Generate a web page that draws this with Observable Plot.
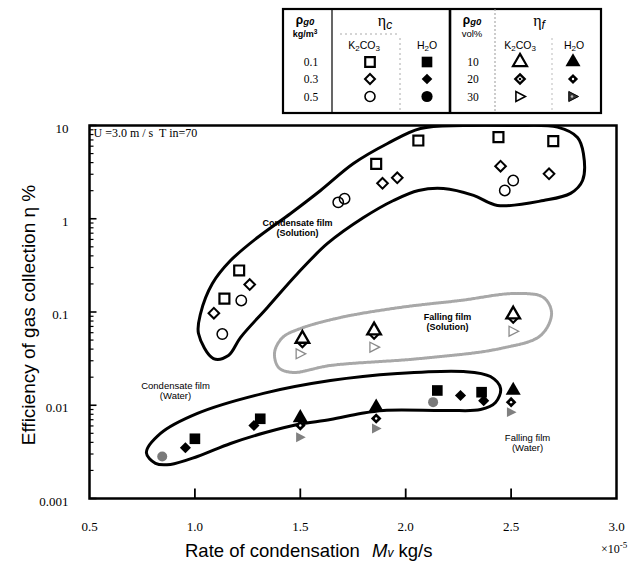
<!DOCTYPE html>
<html><head><meta charset="utf-8">
<script src="https://cdn.jsdelivr.net/npm/d3@7"></script>
<script src="https://cdn.jsdelivr.net/npm/@observablehq/plot@0.6"></script>
<style>
body{margin:0;background:#fff;}
#wrap{position:relative;width:639px;height:566px;background:#fff;overflow:hidden;}
#legend{position:absolute;left:0;top:0;}
#chart{position:absolute;left:0;top:115px;}
</style></head><body>
<div id="wrap"><svg id="legend" width="639" height="118"></svg><div id="chart"></div></div>
<script>
// ---- axis ticks ----
const xTicks = [0.5, 1.0, 1.5, 2.0, 2.5, 3.0];
const xTickLabels = ["0.5", "1.0", "1.5", "2.0", "2.5", "3.0"];
const xInnerTicks = [1.0, 1.5, 2.0, 2.5];
const yTicks = [0.001, 0.01, 0.1, 1, 10];
const yTickLabels = ["0.001", "0.01", "0.1", "1", "10"];

// ---- condensate film, K2CO3 solution (open symbols) ----
const sqOpenX = [1.14, 1.21, 1.86, 2.06, 2.44, 2.70];
const sqOpenY = [0.139, 0.279, 3.88, 6.9, 7.5, 6.8];
const diaOpenX = [1.09, 1.26, 1.89, 1.96, 2.45, 2.68];
const diaOpenY = [0.097, 0.197, 2.40, 2.75, 3.66, 3.03];
const cirOpenX = [1.13, 1.22, 1.68, 1.71, 2.47, 2.51];
const cirOpenY = [0.058, 0.133, 1.50, 1.64, 2.01, 2.57];

// ---- condensate film, water (filled symbols) ----
const sqFillX = [1.00, 1.31, 2.15, 2.36];
const sqFillY = [0.00437, 0.00716, 0.0144, 0.0138];
const diaFillX = [0.955, 1.28, 2.26, 2.37];
const diaFillY = [0.0035, 0.00607, 0.0127, 0.0112];
const cirFillX = [0.845, 2.13];
const cirFillY = [0.00282, 0.0108];

// ---- falling film, K2CO3 solution ----
const triOpenX = [1.51, 1.85, 2.51];
const triOpenY = [0.0516, 0.0634, 0.094];
const diaDotX = [1.51, 1.85, 2.51];
const diaDotY = [0.047, 0.058, 0.086];
const rtriOpenX = [1.50, 1.85, 2.51];
const rtriOpenY = [0.0356, 0.042, 0.0622];

// ---- falling film, water ----
const triFillX = [1.50, 1.86, 2.51];
const triFillY = [0.00733, 0.00953, 0.0144];
const diaDotFillX = [1.50, 1.86, 2.50];
const diaDotFillY = [0.00607, 0.00721, 0.0108];
const rtriFillX = [1.50, 1.86, 2.50];
const rtriFillY = [0.00454, 0.00564, 0.00843];

// ---- hand-drawn enclosing loops ----
const loopSolX = [1.088,1.017,1.027,1.083,1.169,1.297,1.454,1.596,1.752,1.914,2.070,2.274,2.511,2.720,2.815,2.843,2.839,2.782,2.654,2.435,2.322,2.179,2.061,1.942,1.800,1.629,1.487,1.344,1.216,1.159];
const loopSolY = [0.0317,0.0588,0.0964,0.202,0.356,0.63,1.14,2.01,3.91,6.41,9.29,10,10,9.6,7.44,5.0,2.57,1.87,1.57,1.39,1.78,2.11,2.01,1.57,1.03,0.543,0.259,0.112,0.0532,0.0342];
const loopFallX = [1.378,1.416,1.501,1.691,1.975,2.260,2.521,2.654,2.692,2.640,2.450,2.070,1.643,1.463,1.397];
const loopFallY = [0.0368,0.0533,0.0665,0.0873,0.112,0.133,0.158,0.143,0.0964,0.056,0.0406,0.0317,0.0267,0.0225,0.0254];
const loopWatX = [0.770,0.837,1.012,1.325,1.643,1.961,2.274,2.402,2.450,2.426,2.355,2.198,1.895,1.786,1.643,1.487,1.335,1.169,1.012,0.884,0.813];
const loopWatY = [0.0031,0.00498,0.00817,0.0134,0.0184,0.0219,0.023,0.0203,0.0151,0.0107,0.009,0.0088,0.0088,0.00817,0.00703,0.00622,0.0051,0.00389,0.00282,0.00232,0.00238];

// ---- annotations ----
const noteTexts = ["Condensate film\n(Solution)", "Falling film\n(Solution)", "Condensate film\n(Water)", "Falling film\n(Water)"];
const noteX = [1.487, 2.198, 0.908, 2.578];
const noteY = [0.805, 0.079, 0.0144, 0.00399];
const noteBold = [true, true, false, false];

const pts = (xs, ys) => xs.map((x, i) => ({x, y: ys[i]}));
const minorY = [];
for (const d of [0.001, 0.01, 0.1, 1]) for (let k = 2; k <= 9; k++) minorY.push(d * k);

const tickRight = L => ({draw(ctx){ctx.moveTo(0,0); ctx.lineTo(L,0);}});
const tickUp = L => ({draw(ctx){ctx.moveTo(0,0); ctx.lineTo(0,-L);}});
const rightTri = {draw(ctx, size){const r = Math.sqrt(size/Math.PI); ctx.moveTo(r*1.05,0); ctx.lineTo(-r*0.8,-r*0.95); ctx.lineTo(-r*0.8,r*0.95); ctx.closePath();}};

const notes = noteTexts.map((t, i) => ({t, x: noteX[i], y: noteY[i], b: noteBold[i]}));

const chart = Plot.plot({
  width: 639, height: 451,
  marginTop: 10, marginBottom: 68, marginLeft: 89, marginRight: 23,
  x: {domain: [0.5, 3.0]},
  y: {type: "log", domain: [0.001, 10]},
  style: {fontFamily: "'Liberation Serif', serif", fontSize: "13px", background: "white", color: "black", overflow: "visible"},
  marks: [
    // loops
    Plot.line(pts(loopFallX, loopFallY), {x: "x", y: "y", curve: "catmull-rom-closed", stroke: "#a8a8a8", strokeWidth: 3, strokeDasharray: "1.5,1"}),
    Plot.line(pts(loopSolX, loopSolY), {x: "x", y: "y", curve: "catmull-rom-closed", stroke: "black", strokeWidth: 3, clip: true}),
    Plot.line(pts(loopWatX, loopWatY), {x: "x", y: "y", curve: "catmull-rom-closed", stroke: "black", strokeWidth: 3}),
    // condensate film, solution
    Plot.dot(pts(sqOpenX, sqOpenY), {x: "x", y: "y", symbol: "square", r: 5.6, stroke: "black", strokeWidth: 2.2, fill: "white"}),
    Plot.dot(pts(diaOpenX, diaOpenY), {x: "x", y: "y", symbol: "diamond2", r: 4.8, stroke: "black", strokeWidth: 2, fill: "white"}),
    Plot.dot(pts(cirOpenX, cirOpenY), {x: "x", y: "y", symbol: "circle", r: 5.2, stroke: "black", strokeWidth: 1.5, fill: "none"}),
    // falling film, solution
    Plot.dot(pts(rtriOpenX, rtriOpenY), {x: "x", y: "y", symbol: rightTri, r: 5.2, stroke: "#8a8a8a", strokeWidth: 1.3, fill: "white"}),
    Plot.dot(pts(diaDotX, diaDotY), {x: "x", y: "y", symbol: "diamond2", r: 4.2, stroke: "black", strokeWidth: 2.2, fill: "white"}),
    Plot.dot(pts(triOpenX, triOpenY), {x: "x", y: "y", symbol: "triangle", r: 5, stroke: "black", strokeWidth: 2.4, fill: "white"}),
    // condensate film, water
    Plot.dot(pts(cirFillX, cirFillY), {x: "x", y: "y", symbol: "circle", r: 5, fill: "#7a7a7a"}),
    Plot.dot(pts(sqFillX, sqFillY), {x: "x", y: "y", symbol: "square", r: 6, fill: "black"}),
    Plot.dot(pts(diaFillX, diaFillY), {x: "x", y: "y", symbol: "diamond2", r: 5, fill: "black"}),
    // falling film, water
    Plot.dot(pts(rtriFillX, rtriFillY), {x: "x", y: "y", symbol: rightTri, r: 5.2, fill: "#808080"}),
    Plot.dot(pts(triFillX, triFillY), {x: "x", y: "y", symbol: "triangle", r: 5.6, fill: "black"}),
    Plot.dot(pts(diaDotFillX, diaDotFillY), {x: "x", y: "y", symbol: "diamond2", r: 4.8, fill: "black"}),
    Plot.dot(pts(diaDotFillX, diaDotFillY), {x: "x", y: "y", symbol: "circle", r: 1.2, fill: "white"}),
    // notes
    Plot.text(notes.filter(d => d.b), {x: "x", y: "y", text: "t", fontFamily: "'Liberation Sans', sans-serif", fontSize: 9, fontWeight: "bold", lineHeight: 1.15, fill: "black"}),
    Plot.text(notes.filter(d => !d.b), {x: "x", y: "y", text: "t", fontFamily: "'Liberation Sans', sans-serif", fontSize: 9.5, lineHeight: 1.15, fill: "black"}),
    Plot.text(["U =3.0 m / s  T in=70"], {frameAnchor: "top-left", dx: 4, dy: 8, textAnchor: "start", lineAnchor: "middle", fontSize: 12, fontFamily: "'Liberation Serif', serif"}),
    // inward ticks
    Plot.dot(yTicks, {y: d => d, frameAnchor: "left", symbol: tickRight(7), stroke: "black", strokeWidth: 1.6, fill: "none"}),
    Plot.dot(minorY, {y: d => d, frameAnchor: "left", symbol: tickRight(4), stroke: "black", strokeWidth: 1.2, fill: "none"}),
    Plot.dot(xInnerTicks, {x: d => d, frameAnchor: "bottom", symbol: tickUp(10), stroke: "black", strokeWidth: 1.8, fill: "none"}),
    // axes labels
    Plot.axisX({ticks: xTicks, tickFormat: d => xTickLabels[xTicks.indexOf(d)], tickSize: 0, tickPadding: 23, label: null, fontSize: 13}),
    Plot.axisY({ticks: yTicks, tickFormat: d => yTickLabels[yTicks.indexOf(d)], tickSize: 0, tickPadding: 21, dy: 3, label: null, fontSize: 13}),
    Plot.frame({stroke: "black", strokeWidth: 2.5})
  ]
});
document.getElementById("chart").append(chart);

// axis titles
const sv = d3.select(chart);
sv.append("text").attr("transform", "translate(35,200) rotate(-90)").attr("text-anchor", "middle")
  .attr("font-family", "'Liberation Sans', sans-serif").attr("font-size", 19).attr("fill", "black")
  .text("Efficiency of gas collection η %");
const xt = sv.append("text").attr("x", 185).attr("y", 442).attr("text-anchor", "start")
  .attr("font-family", "'Liberation Sans', sans-serif").attr("font-size", 18.5).attr("fill", "black");
xt.append("tspan").text("Rate of condensation");
xt.append("tspan").attr("x", 372).attr("font-style", "italic").text("M");
xt.append("tspan").attr("font-style", "italic").attr("font-size", 12).text("v");
xt.append("tspan").text(" kg/s");
const ex = sv.append("text").attr("x", 601).attr("y", 438).attr("text-anchor", "start").attr("font-family", "'Liberation Serif', serif").attr("font-size", 12).attr("fill", "black");
ex.append("tspan").text("×10");
ex.append("tspan").attr("dy", -5).attr("font-size", 9).text("-5");

// ---- legend table ----
const lg = d3.select("#legend");
const sans = "'Liberation Sans', sans-serif", serif = "'Liberation Serif', serif";
lg.append("rect").attr("x", 283).attr("y", 9).attr("width", 318).attr("height", 104)
  .attr("fill", "white").attr("stroke", "black").attr("stroke-width", 2.2);
const vline = (x, y1, y2, w, dash, col) => lg.append("line").attr("x1", x).attr("x2", x).attr("y1", y1).attr("y2", y2)
  .attr("stroke", col || "black").attr("stroke-width", w).attr("stroke-dasharray", dash || null);
vline(332, 9, 113, 1.2);
vline(450, 9, 113, 2.6);
vline(495, 9, 113, 1, "2,2", "#999");
vline(400, 38, 113, 1, "2,3", "#aaa");
vline(552, 38, 113, 1, "2,3", "#bbb");
lg.append("line").attr("x1", 340).attr("x2", 397).attr("y1", 34).attr("y2", 34).attr("stroke", "#aaa").attr("stroke-dasharray", "2,3");

function rho(x, y) {
  const t = lg.append("text").attr("x", x).attr("y", y).attr("text-anchor", "middle").attr("font-family", sans).attr("font-size", 12).attr("font-weight", "bold");
  t.append("tspan").text("ρ");
  t.append("tspan").attr("dy", 1).attr("font-size", 9.5).attr("font-style", "italic").text("g0");
}
rho(305, 24); rho(472, 24);
const kgm = lg.append("text").attr("x", 305).attr("y", 37).attr("text-anchor", "middle").attr("font-family", sans).attr("font-size", 9).attr("font-weight", "bold");
kgm.append("tspan").text("kg/m"); kgm.append("tspan").attr("dy", -3).attr("font-size", 6.5).text("3");
lg.append("text").attr("x", 472).attr("y", 37).attr("text-anchor", "middle").attr("font-family", sans).attr("font-size", 9.5).text("vol%");
function eta(x, sub) {
  const t = lg.append("text").attr("x", x).attr("y", 26).attr("text-anchor", "middle").attr("font-family", serif).attr("font-size", 16);
  t.append("tspan").text("η");
  t.append("tspan").attr("dy", 3).attr("font-size", 12).attr("font-style", "italic").attr("font-family", sans).text(sub);
}
eta(385, "c"); eta(539, "f");
function chem(x, parts) {
  const t = lg.append("text").attr("x", x).attr("y", 51).attr("text-anchor", "middle").attr("font-family", sans).attr("font-size", 10.5);
  parts.forEach(([s, sub]) => t.append("tspan").attr("font-size", sub ? 8 : 10.5).attr("dy", sub ? 2 : (t.node().childNodes.length ? -2 : 0)).text(s));
}
chem(364, [["K"], ["2", 1], ["CO"], ["3", 1]]);
chem(427, [["H"], ["2", 1], ["O"]]);
chem(520, [["K"], ["2", 1], ["CO"], ["3", 1]]);
chem(574, [["H"], ["2", 1], ["O"]]);
const rowY = [62, 79, 96.5];
["0.1", "0.3", "0.5"].forEach((s, i) => lg.append("text").attr("x", 311).attr("y", rowY[i] + 4).attr("text-anchor", "middle").attr("font-family", serif).attr("font-size", 11.5).text(s));
["10", "20", "30"].forEach((s, i) => lg.append("text").attr("x", 473).attr("y", rowY[i] + 4).attr("text-anchor", "middle").attr("font-family", serif).attr("font-size", 11.5).text(s));
function sym(x, y, type, r, fill, stroke, sw) {
  lg.append("path").attr("transform", `translate(${x},${y})`).attr("d", d3.symbol(type, Math.PI * r * r)())
    .attr("fill", fill).attr("stroke", stroke || "none").attr("stroke-width", sw || 0);
}
sym(370, rowY[0], d3.symbolSquare, 5.4, "white", "black", 2.2);
sym(370, rowY[1], d3.symbolDiamond2, 4.5, "white", "black", 2);
sym(370, rowY[2], d3.symbolCircle, 5, "white", "black", 1.6);
sym(427, rowY[0], d3.symbolSquare, 6, "black");
sym(427, rowY[1], d3.symbolDiamond2, 4.8, "black");
sym(427, rowY[2], d3.symbolCircle, 5.6, "black");
sym(520, rowY[0], d3.symbolTriangle, 5.2, "white", "black", 2.2);
sym(520, rowY[1], d3.symbolDiamond2, 4.2, "white", "black", 2.4);
sym(520, rowY[1], d3.symbolCircle, 1.3, "black");
sym(520, rowY[2], rightTri, 5.1, "white", "black", 1.6);
sym(573, rowY[0], d3.symbolTriangle, 5.6, "black");
sym(573, rowY[1], d3.symbolDiamond2, 4.6, "black");
sym(573, rowY[1], d3.symbolCircle, 1.2, "white");
sym(573, rowY[2], rightTri, 5.3, "#333", "black", 1);
sym(572, rowY[2], d3.symbolCircle, 1.3, "#bbb");
</script>
</body></html>
